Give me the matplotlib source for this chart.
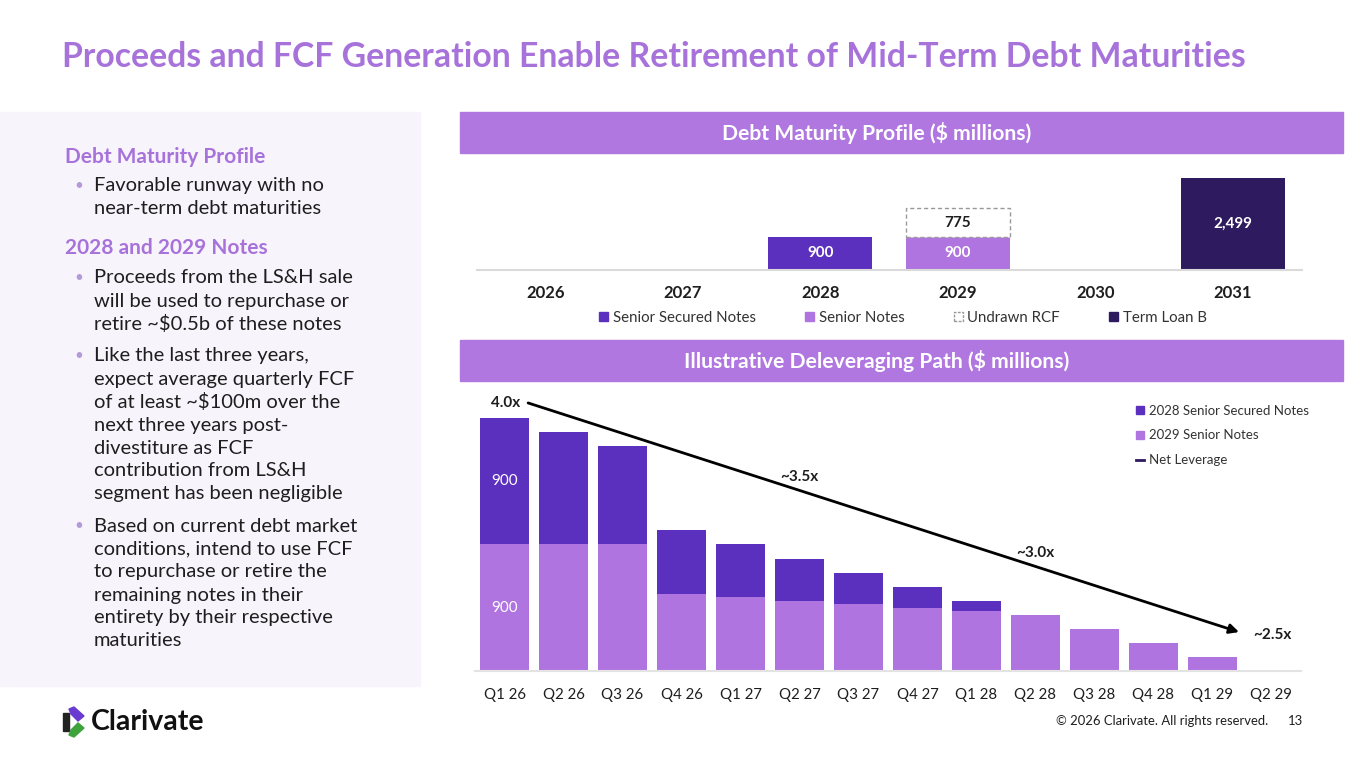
import numpy as np
import matplotlib
matplotlib.use('Agg')
import matplotlib.pyplot as plt
from matplotlib.patches import Rectangle, Patch, Polygon
from matplotlib.lines import Line2D

plt.rcParams['font.family'] = ['Lato', 'DejaVu Sans']

# --- data ---
years = ['2026', '2027', '2028', '2029', '2030', '2031']
secured_by_year = [0, 0, 900, 0, 0, 0]
senior_by_year = [0, 0, 0, 900, 0, 0]
rcf_by_year = [0, 0, 0, 775, 0, 0]
tlb_by_year = [0, 0, 0, 0, 0, 2499]

quarters = ['Q1 26', 'Q2 26', 'Q3 26', 'Q4 26', 'Q1 27', 'Q2 27', 'Q3 27',
            'Q4 27', 'Q1 28', 'Q2 28', 'Q3 28', 'Q4 28', 'Q1 29', 'Q2 29']
senior_2029 = [900, 900, 900, 550, 525, 500, 475, 450, 425, 400, 300, 200, 100, 0]
secured_2028 = [900, 800, 700, 450, 375, 300, 225, 150, 75, 0, 0, 0, 0, 0]

lev_q = [0.4, 12.45]          # start / end of the leverage path (quarter index)
lev_val = [4.0, 2.5]
lev_labels = ['4.0x', '~3.5x', '~3.0x', '~2.5x']
lev_label_q = [0.4, 5.0, 9.0, 12.45]

# --- colours ---
c_title = '#A772DA'
c_band = '#B077E0'
c_secured = '#5C30BE'
c_senior = '#AF74DF'
c_tlb = '#2E1A5E'
c_text = '#1E1E1E'
c_panel = '#F8F4FC'

W, H = 1365, 766
fig = plt.figure(figsize=(W / 100, H / 100), dpi=100)
fig.patch.set_facecolor('white')


def fx(x):
    return x / W


def fy(y):
    return 1 - y / H


def rect(x0, y0, x1, y1):
    return [fx(x0), fy(y1), fx(x1) - fx(x0), fy(y0) - fy(y1)]


# title
fig.text(fx(62), fy(57), 'Proceeds and FCF Generation Enable Retirement of Mid-Term Debt Maturities',
         color=c_title, fontsize=24.3, fontweight='bold', va='center', ha='left')

# left panel
fig.patches.append(Rectangle((0, fy(686)), fx(420), fy(112) - fy(686),
                             transform=fig.transFigure, color=c_panel, zorder=0))

left_lines = [
    ('h', 'Debt Maturity Profile', 157),
    ('b', 'Favorable runway with no', 186),
    ('c', 'near-term debt maturities', 209),
    ('h', '2028 and 2029 Notes', 248),
    ('b', 'Proceeds from the LS&H sale', 278),
    ('c', 'will be used to repurchase or', 301),
    ('c', 'retire ~$0.5b of these notes', 324),
    ('b', 'Like the last three years,', 356),
    ('c', 'expect average quarterly FCF', 379),
    ('c', 'of at least ~$100m over the', 402),
    ('c', 'next three years post-', 425),
    ('c', 'divestiture as FCF', 448),
    ('c', 'contribution from LS&H', 471),
    ('c', 'segment has been negligible', 494),
    ('b', 'Based on current debt market', 526),
    ('c', 'conditions, intend to use FCF', 549),
    ('c', 'to repurchase or retire the', 572),
    ('c', 'remaining notes in their', 595),
    ('c', 'entirety by their respective', 618),
    ('c', 'maturities', 641),
]
for kind, txt, y in left_lines:
    if kind == 'h':
        fig.text(fx(65), fy(y), txt, color=c_title, fontsize=15, fontweight='bold', va='center')
    else:
        if kind == 'b':
            fig.text(fx(74), fy(y), '•', color='#B59ADB', fontsize=11, va='center')
        fig.text(fx(94), fy(y), txt, color=c_text, fontsize=14.5, va='center')

# header bands
for y0, y1, txt in [(112, 153, 'Debt Maturity Profile ($ millions)'),
                    (340, 381, 'Illustrative Deleveraging Path ($ millions)')]:
    fig.patches.append(Rectangle((fx(460), fy(y1)), fx(1343) - fx(460), fy(y0) - fy(y1),
                                 transform=fig.transFigure, color=c_band, zorder=0))
    fig.text(fx(877), fy((y0 + y1) / 2), txt, color='white', fontsize=15.2,
             fontweight='bold', ha='center', va='center')

# --- top chart ---
ax1 = fig.add_axes(rect(476.5, 160, 1301.5, 270))
x1 = np.arange(len(years))
bw1 = 0.756
ax1.bar(x1, secured_by_year, bw1, color=c_secured, label='Senior Secured Notes')
ax1.bar(x1, senior_by_year, bw1, color=c_senior, label='Senior Notes')
ax1.bar(x1, rcf_by_year, bw1, bottom=senior_by_year, facecolor='white', edgecolor='#999999',
        linestyle=(0, (3, 2)), linewidth=1, label='Undrawn RCF')
ax1.bar(x1, tlb_by_year, bw1, color=c_tlb, label='Term Loan B')
for i in range(len(years)):
    for val, base, col in [(secured_by_year[i], 0, 'white'), (senior_by_year[i], 0, 'white'),
                           (tlb_by_year[i], 0, 'white'),
                           (rcf_by_year[i], senior_by_year[i], c_text)]:
        if val:
            ax1.text(i, base + val / 2, f'{val:,}', color=col, ha='center', va='center',
                     fontsize=11, fontweight='bold')
ax1.set_xlim(-0.5, len(years) - 0.5)
ax1.set_ylim(0, 2990)
ax1.set_xticks(x1)
ax1.set_xticklabels(years, fontsize=12, fontweight='bold', color=c_text)
ax1.tick_params(axis='x', length=0, pad=11)
ax1.set_yticks([])
for s in ['top', 'right', 'left']:
    ax1.spines[s].set_visible(False)
ax1.spines['bottom'].set_color('#DADADA')
ax1.spines['bottom'].set_linewidth(1.5)
h1 = [Patch(color=c_secured), Patch(color=c_senior),
      Patch(facecolor='white', edgecolor='#999999', linestyle=(0, (2, 1))), Patch(color=c_tlb)]
fig.legend(h1, ['Senior Secured Notes', 'Senior Notes', 'Undrawn RCF', 'Term Loan B'],
           loc='center', bbox_to_anchor=(fx(903), fy(318)), ncol=4, frameon=False,
           fontsize=10.8, handlelength=0.6, handleheight=0.6, handletextpad=0.3,
           columnspacing=3.3, labelcolor='#333333')

# --- bottom chart ---
ax = fig.add_axes(rect(475, 395, 1301, 671))
x = np.arange(len(quarters))
bw = 0.83
ax.bar(x, senior_2029, bw, color=c_senior, label='2029 Senior Notes')
ax.bar(x, secured_2028, bw, bottom=senior_2029, color=c_secured, label='2028 Senior Secured Notes')
ax.text(0, senior_2029[0] / 2, f'{senior_2029[0]}', color='white', ha='center', va='center', fontsize=11)
ax.text(0, senior_2029[0] + secured_2028[0] / 2, f'{secured_2028[0]}', color='white',
        ha='center', va='center', fontsize=11)
ax.set_xlim(-0.5, len(quarters) - 0.5)
ax.set_ylim(0, 1963)
ax.set_xticks(x)
ax.set_xticklabels(quarters, fontsize=10.8, color=c_text)
ax.tick_params(axis='x', length=0, pad=12)
ax.set_yticks([])
for s in ['top', 'right', 'left']:
    ax.spines[s].set_visible(False)
ax.spines['bottom'].set_color('#E3E3E3')
ax.spines['bottom'].set_linewidth(1.5)

ax2 = ax.twinx()
ax2.set_ylim(2.245, 4.052)
ax2.set_yticks([])
for s in ax2.spines.values():
    s.set_visible(False)
ax2.annotate('', xy=(lev_q[1], lev_val[1]), xytext=(lev_q[0], lev_val[0]),
             arrowprops=dict(arrowstyle='-|>', color='black', lw=2, mutation_scale=14,
                             shrinkA=0, shrinkB=0))
for lbl, q in zip(lev_labels, lev_label_q):
    v = np.interp(q, lev_q, lev_val)
    if lbl == lev_labels[0]:
        ax2.annotate(lbl, (q, v), xytext=(-6, 0), textcoords='offset points', ha='right',
                     va='center', fontsize=11, fontweight='bold', color=c_text)
    elif lbl == lev_labels[-1]:
        ax2.annotate(lbl, (q, v), xytext=(10, -2), textcoords='offset points', ha='left',
                     va='center', fontsize=11, fontweight='bold', color=c_text)
    else:
        ax2.annotate(lbl, (q, v), xytext=(0, 10), textcoords='offset points', ha='center',
                     va='center', fontsize=11, fontweight='bold', color=c_text)

h2 = [Patch(color=c_secured), Patch(color=c_senior), Line2D([0], [0], color=c_tlb, lw=2)]
fig.legend(h2, ['2028 Senior Secured Notes', '2029 Senior Notes', 'Net Leverage'],
           loc='upper left', bbox_to_anchor=(fx(1124), fy(393)), frameon=False,
           fontsize=9.5, handlelength=0.6, handleheight=0.6, handletextpad=0.4,
           labelspacing=0.95, labelcolor='#333333')

# footer / logo
fig.patches.append(Polygon([[fx(63), fy(713)], [fx(69), fy(713)], [fx(69), fy(731)], [fx(63), fy(731)]],
                           closed=True, transform=fig.transFigure, color='#222222'))
fig.patches.append(Polygon([[fx(69), fy(709)], [fx(74), fy(707)], [fx(84), fy(716)], [fx(78), fy(721)], [fx(71), fy(714)]],
                           closed=True, transform=fig.transFigure, color='#6A3BD0'))
fig.patches.append(Polygon([[fx(71), fy(730)], [fx(78), fy(723)], [fx(84), fy(728)], [fx(74), fy(737)], [fx(69), fy(735)]],
                           closed=True, transform=fig.transFigure, color='#3DA33A'))
fig.text(fx(91), fy(722), 'Clarivate', fontsize=20.5, fontweight='bold', color='#111111', va='center')
fig.text(fx(1268), fy(721), '© 2026 Clarivate. All rights reserved.', fontsize=9.4, color=c_text,
         va='center', ha='right')
fig.text(fx(1303), fy(721), '13', fontsize=9.4, color=c_text, va='center', ha='right')

fig.savefig('out.png', dpi=100)
